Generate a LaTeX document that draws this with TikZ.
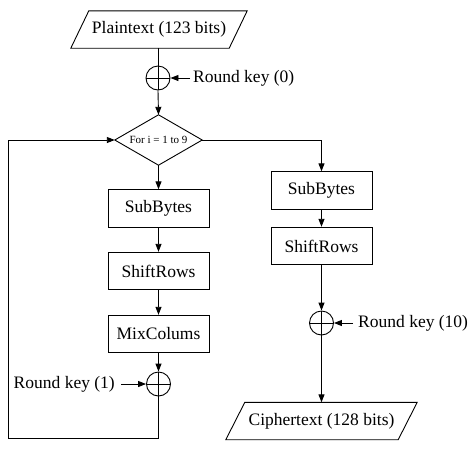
\documentclass[tikz,border=0pt]{standalone}
\usepackage{fontspec}
\setmainfont{Liberation Serif}
\usetikzlibrary{arrows.meta,calc}
\tikzset{
  lbl/.style={font=\fontsize{17.5}{20}\selectfont, inner sep=0pt},
  procbox/.style={draw, line width=0.9pt, minimum width=101pt, minimum height=37.5pt, inner sep=0pt, font=\fontsize{17.5}{20}\selectfont},
  iobox/.style={minimum height=37pt, inner sep=0pt, font=\fontsize{17.5}{20}\selectfont},
  xorc/.style={circle, draw, line width=0.9pt, minimum size=24pt, inner sep=0pt},
  arr/.style={line width=0.9pt, -{Triangle[length=8pt,width=6pt]}},
  ln/.style={line width=0.9pt}
}
\begin{document}
\begin{tikzpicture}[x=1pt,y=-1pt]
\useasboundingbox (0,0) rectangle (474,451);
% input
\node[iobox, minimum width=158pt] (pt) at (159,29.5) {Plaintext (123 bits)};
\draw[ln] ($(pt.south west)+(-9,0)$) -- ($(pt.south east)+(-9,0)$) -- ($(pt.north east)+(9,0)$) -- ($(pt.north west)+(9,0)$) -- cycle;
\node[xorc] (x0) at (158,78) {};
\draw[ln] (x0.north) -- (x0.south) (x0.west) -- (x0.east);
\node[lbl, anchor=west] (rk0) at (193,78) {Round key (0)};
% decision
\node[minimum width=87pt, minimum height=50pt, inner sep=0pt, font=\fontsize{11}{13}\selectfont] (d) at (158.5,140) {For i = 1 to 9};
\draw[ln] (d.north) -- (d.east) -- (d.south) -- (d.west) -- cycle;
% left column
\node[procbox] (sbL) at (158.5,208.5) {SubBytes};
\node[procbox] (srL) at (158.5,271) {ShiftRows};
\node[procbox] (mc) at (158.5,334) {MixColums};
\node[xorc] (x1) at (158.5,384) {};
\draw[ln] (x1.north) -- (x1.south) (x1.west) -- (x1.east);
\node[lbl, anchor=east] (rk1) at (115,384) {Round key (1)};
\coordinate (lp) at (8,438);
% right column
\node[procbox] (sbR) at (321.5,190.5) {SubBytes};
\node[procbox] (srR) at (321.5,246) {ShiftRows};
\node[xorc] (x10) at (321.5,323) {};
\draw[ln] (x10.north) -- (x10.south) (x10.west) -- (x10.east);
\node[lbl, anchor=west] (rk10) at (358,323) {Round key (10)};
\node[iobox, minimum width=172pt] (ct) at (321.5,421) {Ciphertext (128 bits)};
\draw[ln] ($(ct.south west)+(-9.5,0)$) -- ($(ct.south east)+(-9.5,0)$) -- ($(ct.north east)+(9.5,0)$) -- ($(ct.north west)+(9.5,0)$) -- cycle;
% connectors
\draw[ln] (pt.south -| x0) -- (x0.north);
\draw[arr] ([xshift=-3pt]rk0.west) -- (x0.east);
\draw[arr] (x0.south) -- (d.north);
\draw[arr] (d.south) -- (sbL.north);
\draw[arr] (sbL.south) -- (srL.north);
\draw[arr] (srL.south) -- (mc.north);
\draw[arr] (mc.south) -- (x1.north);
\draw[arr] ([xshift=6pt]rk1.east) -- (x1.west);
\draw[ln] (x1.south) |- (lp);
\draw[arr] (lp) |- (d.west);
\draw[arr] (d.east) -| (sbR.north);
\draw[arr] (sbR.south) -- (srR.north);
\draw[arr] (srR.south) -- (x10.north);
\draw[arr] ([xshift=-5pt]rk10.west) -- (x10.east);
\draw[arr] (x10.south) -- (ct.north);
\end{tikzpicture}
\end{document}
